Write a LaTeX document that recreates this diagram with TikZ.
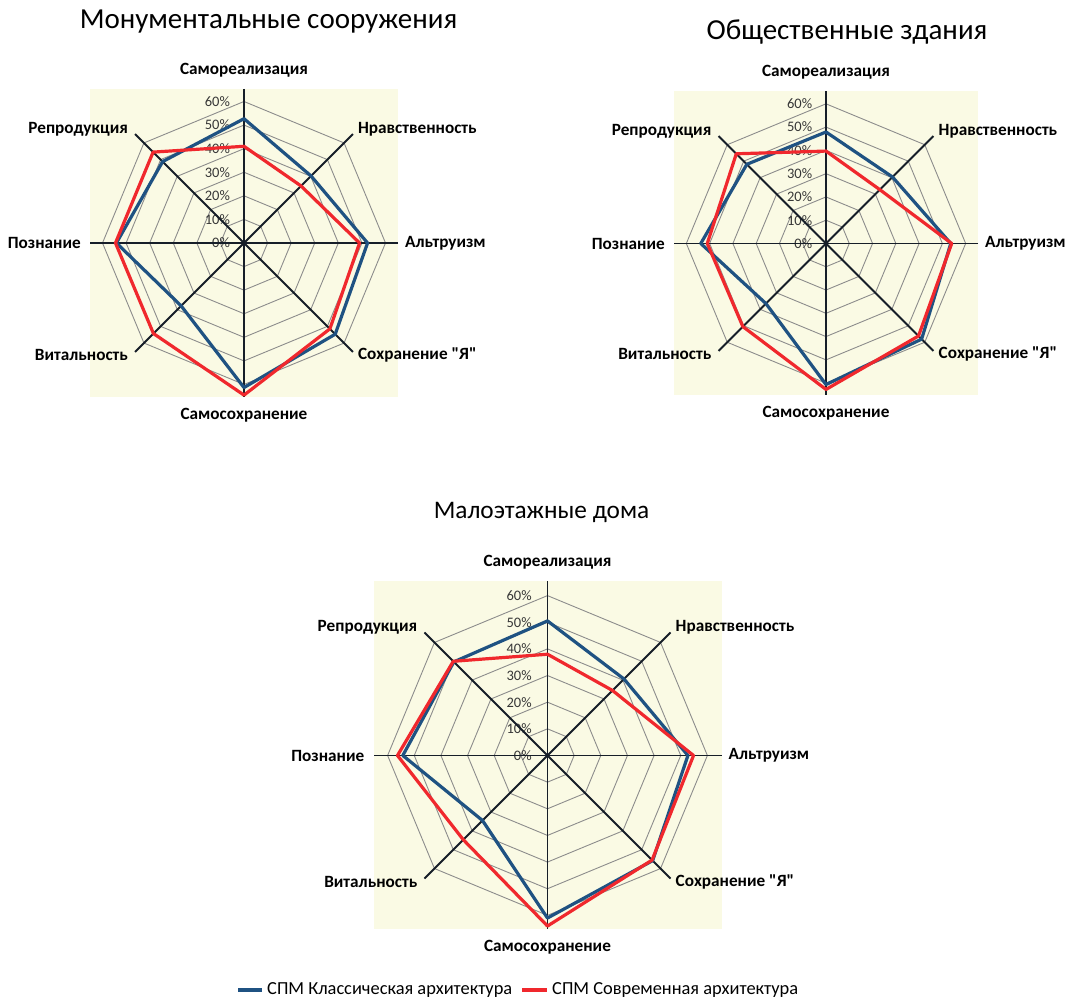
\documentclass[tikz,border=0pt]{standalone}
\usepackage{fontspec}
\setmainfont{Carlito}[Ligatures=TeXOff]
\definecolor{bgyel}{RGB}{250,250,228}
\definecolor{ringgray}{RGB}{140,140,140}
\definecolor{axiscol}{RGB}{22,30,40}
\definecolor{classblue}{RGB}{31,82,130}
\definecolor{modred}{RGB}{240,40,45}
\definecolor{ticktext}{RGB}{55,55,55}
\tikzset{
  bgfill/.style={fill=bgyel},
  ringline/.style={draw=ringgray, line width=0.9pt},
  axisline/.style={draw=axiscol, line width=1.9pt},
  blueline/.style={draw=classblue, line width=3.2pt, line join=round},
  redline/.style={draw=modred, line width=3.2pt, line join=round},
  ticklabel/.style={font=\fontsize{14.5}{16}\selectfont, text=ticktext, inner sep=0pt, anchor=east},
  axlabel/.style={font=\fontsize{17.2}{19}\selectfont\bfseries, text=black, inner sep=0pt},
  titletext/.style={font=\fontsize{29}{32}\selectfont, inner sep=0pt, anchor=base},
  legtext/.style={font=\fontsize{18.4}{20}\selectfont, inner sep=0pt, anchor=west},
}
% #1 cx, #2 cy, #3 axis half length, #4 blue values, #5 red values, #6 name prefix
\newcommand\radarchart[6]{%
  \begin{scope}[shift={(#1,#2)}]
    \pgfmathsetmacro\axL{#3}
    \pgfmathsetmacro\ru{#3/6.53}
    \pgfmathsetmacro\dg{0.7071*#3}
    \fill[bgfill] (-\axL,-\axL) rectangle (\axL,\axL);
    \foreach \k in {1,...,6}{
      \draw[ringline] (90:\k*\ru) -- (45:\k*\ru) -- (0:\k*\ru) -- (-45:\k*\ru)
        -- (-90:\k*\ru) -- (-135:\k*\ru) -- (180:\k*\ru) -- (135:\k*\ru) -- cycle;
    }
    \foreach \k in {0,...,6}{
      \pgfmathtruncatemacro\pc{10*\k}
      \node[ticklabel] (#6-tick\k) at ({-0.09*\axL},{\k*\ru}) {\pc\%};
    }
    \coordinate (#6-c) at (0,0);
    \foreach \a in {90,45,0,-45,-90,-135,180,135}{
      \coordinate (#6-end\a) at (\a:\axL);
    }
    \draw[axisline] (#6-end90) -- (#6-end-90);
    \draw[axisline] (#6-end0) -- (#6-end180);
    \draw[axisline] (#6-end45) -- (#6-end-135);
    \draw[axisline] (#6-end135) -- (#6-end-45);
    \foreach \v [count=\i] in {#4}{
      \coordinate (#6-b\i) at ({135-45*\i}:{\v*\ru/10});
    }
    \foreach \v [count=\i] in {#5}{
      \coordinate (#6-r\i) at ({135-45*\i}:{\v*\ru/10});
    }
    \draw[blueline] (#6-b1) -- (#6-b2) -- (#6-b3) -- (#6-b4) -- (#6-b5) -- (#6-b6) -- (#6-b7) -- (#6-b8) -- cycle;
    \draw[redline] (#6-r1) -- (#6-r2) -- (#6-r3) -- (#6-r4) -- (#6-r5) -- (#6-r6) -- (#6-r7) -- (#6-r8) -- cycle;
    \node[axlabel, anchor=center] (#6-l1) at (0,{\axL+19}) {Самореализация};
    \node[axlabel, anchor=west] (#6-l2) at ({\dg+5},{\dg+5}) {Нравственность};
    \node[axlabel, anchor=west] (#6-l3) at ({\axL+7},0) {Альтруизм};
    \node[axlabel, anchor=west] (#6-l4) at ({\dg+5},{-\dg-3}) {Сохранение "Я"};
    \node[axlabel, anchor=center] (#6-l5) at (0,{-\axL-18}) {Самосохранение};
    \node[axlabel, anchor=east] (#6-l6) at ({-\dg-7},{-\dg-3}) {Витальность};
    \node[axlabel, anchor=east] (#6-l7) at ({-\axL-9},0) {Познание};
    \node[axlabel, anchor=east] (#6-l8) at ({-\dg-7},{\dg+5}) {Репродукция};
  \end{scope}}
\begin{document}
\begin{tikzpicture}[x=1pt,y=1pt]
  \useasboundingbox (0,0) rectangle (1072,1006);
  \fill[white] (0,0) rectangle (1072,1006);
  % titles
  \node[titletext] (t1) at (268.5,977.7) {Монументальные сооружения};
  \node[titletext] (t2) at (847,966.7) {Общественные здания};
  \node[titletext, font=\fontsize{25.3}{28}\selectfont] (t3) at (541.5,487) {Малоэтажные дома};
  % charts
  \radarchart{244}{763}{154}{52.7,40.2,52.4,54.7,61.3,37.7,54.1,48.8}{41,34.2,49,51.5,64.5,54.3,54.5,54.5}{A}
  \radarchart{826}{762.5}{152}{47.9,40.4,53.6,58.1,60.6,36.5,53.8,48.1}{39.7,32.7,54,56.2,62.7,50.5,51,54.5}{B}
  \radarchart{547.5}{250.5}{174}{50.5,40.6,52.7,55.8,61,34.5,54.3,49.7}{38,34.5,54.8,55.5,64,44.7,56.3,50}{C}
  % legend
  \coordinate (lb1) at (238,16);
  \coordinate (lb2) at (262,16);
  \coordinate (lr1) at (522,16);
  \coordinate (lr2) at (547,16);
  \draw[blueline, line cap=butt] (lb1) -- (lb2);
  \node[legtext] (leg1) at (267,16) {СПМ Классическая архитектура};
  \draw[redline, line cap=butt] (lr1) -- (lr2);
  \node[legtext] (leg2) at (552,16) {СПМ Современная архитектура};
\end{tikzpicture}
\end{document}
